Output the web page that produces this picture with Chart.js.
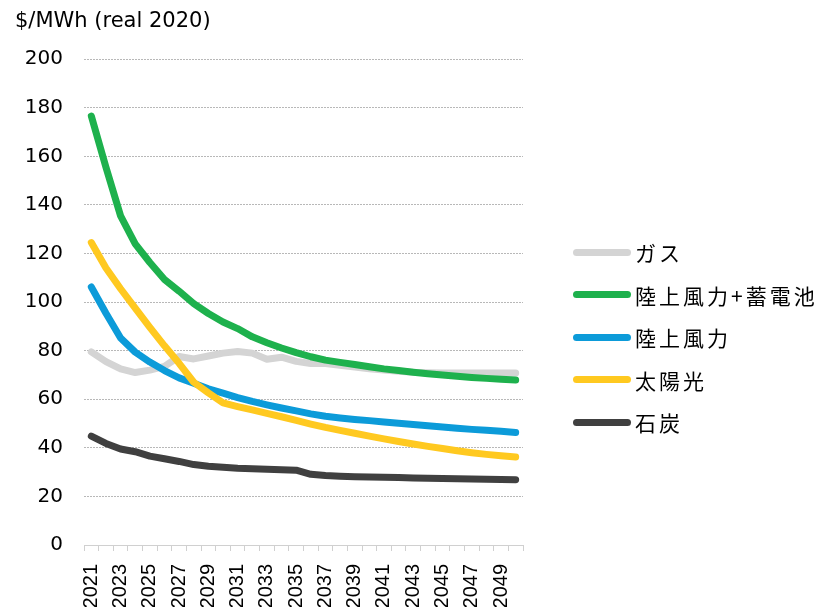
<!DOCTYPE html>
<html>
<head>
<meta charset="utf-8">
<script src="https://cdn.jsdelivr.net/npm/chart.js@4/dist/chart.umd.min.js"></script>
<style>
    body { margin: 0; background: #fff; }
    #wrap { position: relative; width: 817px; height: 615px; overflow: hidden; }
    #legend { position: absolute; left: 573px; top: 231px; white-space: nowrap; }
    .item { display: flex; align-items: center; height: 42.5px; }
    .swatch { flex: none; width: 58px; height: 7px; border-radius: 4px; margin-right: 4px; }
    .label { font: 21px "Noto Sans CJK JP", sans-serif; letter-spacing: 3px; color: #000; white-space: nowrap; }
</style>
</head>
<body>
<div id="wrap">
    <canvas id="cost_chart" width="817" height="615"></canvas>
    <div id="legend"></div>
</div>
<script>
const years = ["2021", "2022", "2023", "2024", "2025", "2026", "2027", "2028", "2029", "2030",
    "2031", "2032", "2033", "2034", "2035", "2036", "2037", "2038", "2039", "2040",
    "2041", "2042", "2043", "2044", "2045", "2046", "2047", "2048", "2049", "2050"];

const gas = [79.5, 75.5, 72.5, 71.0, 72.0, 73.5, 77.6, 76.6, 77.8, 79.0,
    79.7, 79.0, 76.5, 77.3, 75.6, 74.7, 74.7, 74.0, 73.3, 72.6,
    72.0, 71.5, 71.1, 70.9, 70.8, 70.8, 70.8, 70.8, 70.8, 70.8];
const windStorage = [176.6, 155.5, 135.5, 124.0, 116.3, 109.3, 104.5, 99.4, 95.3, 91.8,
    89.1, 85.7, 83.3, 81.1, 79.2, 77.5, 76.1, 75.2, 74.3, 73.4,
    72.5, 71.8, 71.1, 70.5, 70.0, 69.5, 69.0, 68.6, 68.2, 67.9];
const wind = [106.2, 95.4, 85.2, 79.4, 75.3, 71.8, 68.8, 66.6, 64.3, 62.5,
    60.7, 59.1, 57.7, 56.4, 55.2, 54.0, 53.0, 52.3, 51.7, 51.2,
    50.6, 50.1, 49.6, 49.1, 48.6, 48.1, 47.6, 47.2, 46.8, 46.3];
const solar = [124.5, 114.0, 105.5, 97.5, 89.6, 82.0, 74.8, 67.0, 62.6, 58.5,
    57.0, 55.6, 54.2, 52.8, 51.3, 49.8, 48.4, 47.2, 46.0, 44.8,
    43.7, 42.6, 41.6, 40.6, 39.7, 38.8, 38.0, 37.3, 36.7, 36.2];
const coal = [44.8, 41.8, 39.5, 38.4, 36.6, 35.5, 34.4, 33.1, 32.4, 32.0,
    31.6, 31.4, 31.2, 31.0, 30.8, 29.1, 28.6, 28.3, 28.1, 28.0,
    27.9, 27.8, 27.6, 27.5, 27.4, 27.3, 27.2, 27.1, 27.0, 26.9];

const seriesNames = ["ガス", "陸上風力+蓄電池", "陸上風力", "太陽光", "石炭"];
const seriesValues = [gas, windStorage, wind, solar, coal];
const seriesColors = ["#d4d4d4", "#1eb14d", "#0c9bd9", "#ffc920", "#404040"];

function init() {
    createCostChart();
    createLegend();
}

function createCostChart() {
    const cost_chart = document.getElementById("cost_chart");

    // later series sit on top, like the spreadsheet they came from
    const datasets = seriesNames.map((name, i) => ({
        label: name,
        data: seriesValues[i],
        borderColor: seriesColors[i],
        backgroundColor: seriesColors[i],
        borderWidth: 7,
        borderCapStyle: 'round',
        borderJoinStyle: 'round',
        pointRadius: 0,
        tension: 0,
        order: seriesNames.length - i
    }));

    const cost_chart_config = {
        type: 'line',
        data: { labels: years, datasets: datasets },
        options: {
            responsive: false,
            animation: false,
            layout: {
                padding: { left: 15, right: 294, top: 0, bottom: 8 }
            },
            scales: {
                x: {
                    offset: true,
                    afterFit: (scale) => { scale.height = 62; },
                    grid: {
                        offset: true,
                        drawOnChartArea: false,
                        tickLength: 6,
                        color: '#d0d0d0'
                    },
                    border: { color: '#d0d0d0' },
                    ticks: {
                        autoSkip: false,
                        maxRotation: 90,
                        minRotation: 90,
                        padding: 13,
                        color: '#000',
                        font: { family: 'Liberation Sans', size: 20 },
                        callback: function (value, index) {
                            return index % 2 === 0 ? this.getLabelForValue(value) : '';
                        }
                    }
                },
                y: {
                    min: 0,
                    max: 200,
                    afterFit: (scale) => { scale.width = 69; },
                    grid: {
                        drawTicks: false,
                        color: (ctx) => ctx.tick.value === 0 ? 'rgba(0,0,0,0)' : '#b8b8b8'
                    },
                    border: { display: false, dash: [2, 1] },
                    ticks: {
                        stepSize: 20,
                        padding: 21,
                        color: '#000',
                        font: { family: 'DejaVu Sans', size: 20 }
                    }
                }
            },
            plugins: {
                title: {
                    display: true,
                    text: '$/MWh (real 2020)',
                    align: 'start',
                    color: '#000',
                    font: { family: 'DejaVu Sans', size: 21, weight: 'normal' },
                    padding: { top: 9, bottom: 25 }
                },
                legend: { display: false },
                tooltip: { enabled: false }
            }
        }
    };

    const myChart = new Chart(cost_chart, cost_chart_config);
    return myChart;
}

function createLegend() {
    const legend = document.getElementById("legend");
    seriesNames.forEach((name, i) => {
        const item = document.createElement("div");
        item.className = "item";
        const swatch = document.createElement("span");
        swatch.className = "swatch";
        swatch.style.background = seriesColors[i];
        const label = document.createElement("span");
        label.className = "label";
        label.textContent = name;
        item.appendChild(swatch);
        item.appendChild(label);
        legend.appendChild(item);
    });
}

init();
</script>
</body>
</html>
